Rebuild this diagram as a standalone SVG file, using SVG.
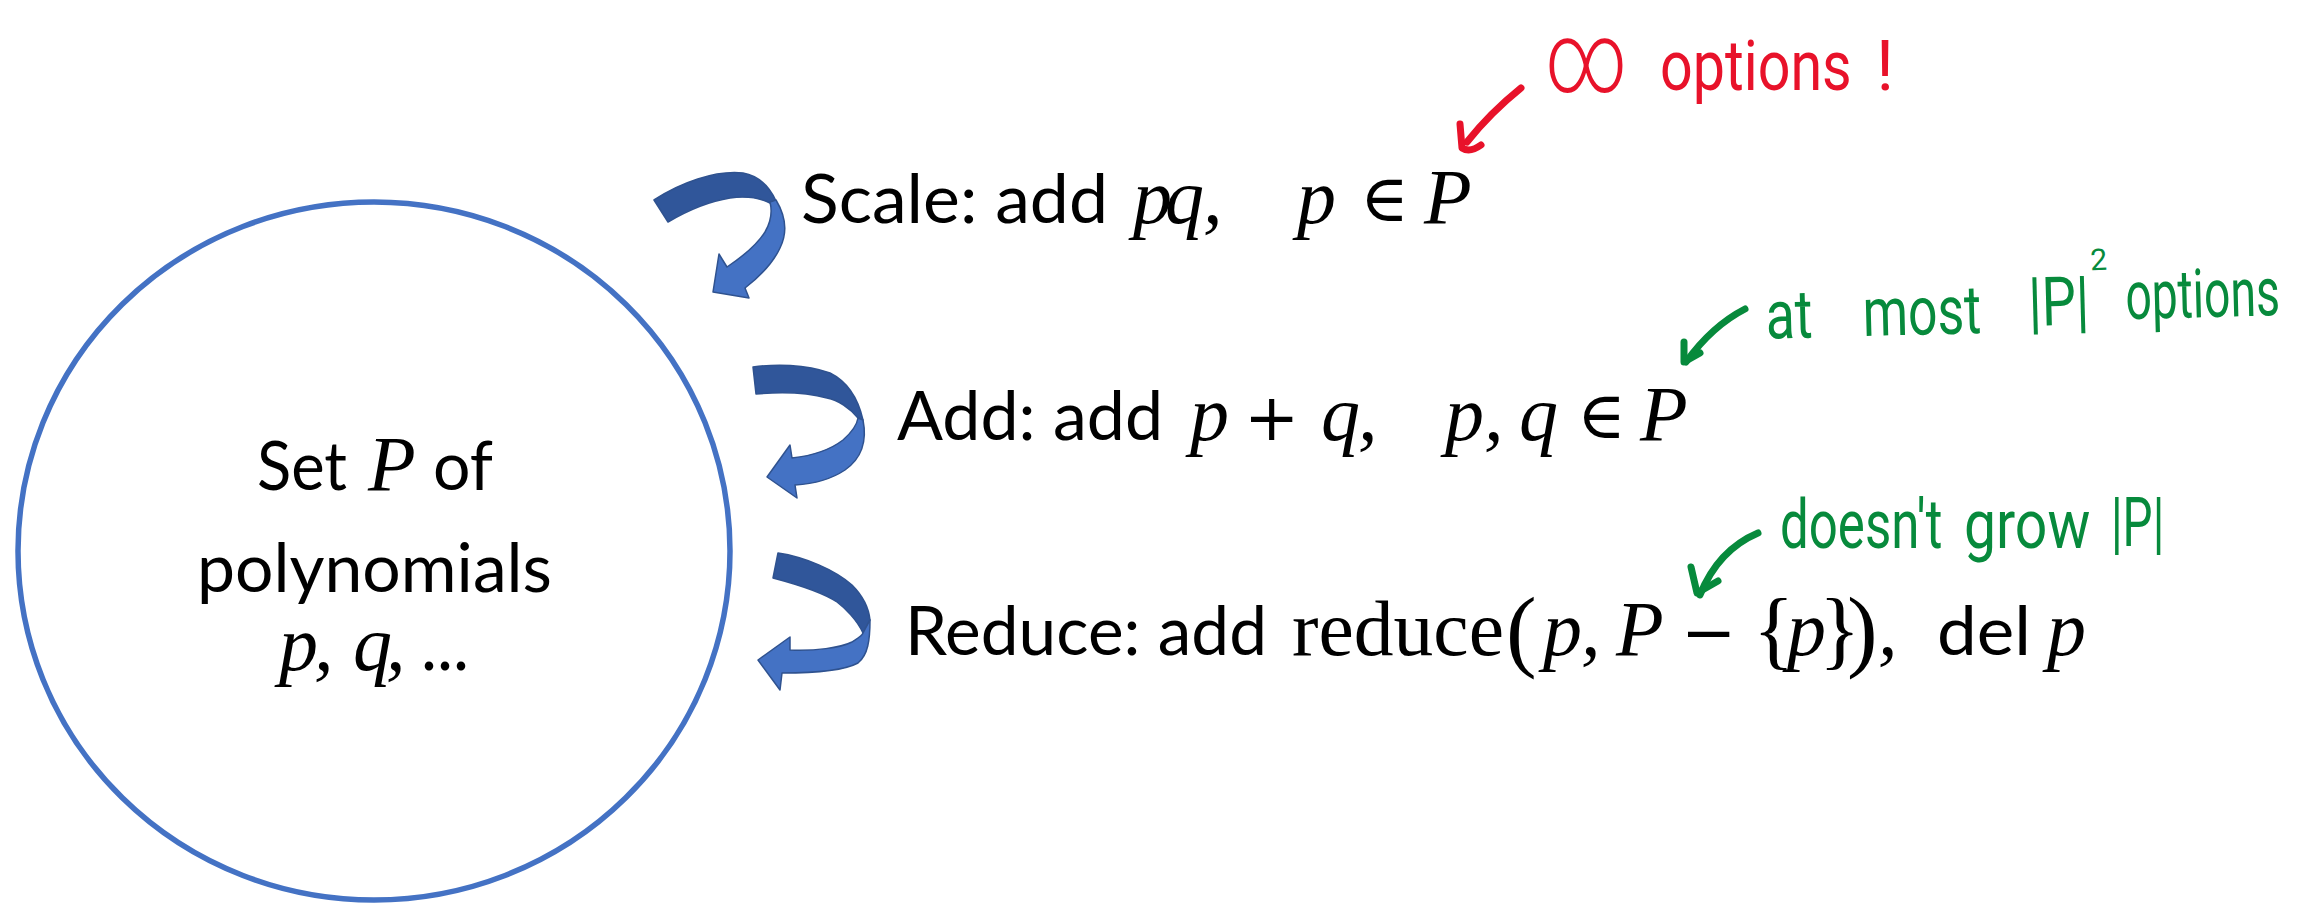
<svg xmlns="http://www.w3.org/2000/svg" width="2310" height="912" viewBox="0 0 2310 912">
<style>
.cal{font-family:Lato,"Liberation Sans",sans-serif;font-size:67px;fill:#000}
.mi{font-family:"Liberation Serif","DejaVu Serif",serif;font-style:italic;font-size:78px;fill:#000}
.mu{font-family:"Liberation Serif","DejaVu Serif",serif;font-size:78px;fill:#000}
.op{font-family:"DejaVu Serif","Liberation Serif",serif;font-size:66px;fill:#000}
.dark{fill:#30569A;stroke:#2F528F;stroke-width:1.5;stroke-linejoin:round}
.light{fill:#4472C4;stroke:#2F528F;stroke-width:1.5;stroke-linejoin:round}
.hw{font-family:Roboto,"Liberation Sans",sans-serif;font-size:68px}
.red{fill:#E8122A}
.green{fill:#078A3C}
.ink{fill:none;stroke-width:7;stroke-linecap:round;stroke-linejoin:round}
</style>
<rect width="2310" height="912" fill="#fff"/>

<g id="set-node">
<ellipse cx="374" cy="551" rx="356" ry="349" fill="#fff" stroke="#4472C4" stroke-width="5.5"/>
<text class="cal" x="257" y="490" textLength="90" lengthAdjust="spacingAndGlyphs">Set</text>
<text class="mi" x="368" y="490">P</text>
<text class="cal" x="433" y="490" textLength="60" lengthAdjust="spacingAndGlyphs">of</text>
<text class="cal" x="197" y="592" textLength="355" lengthAdjust="spacingAndGlyphs">polynomials</text>
<text class="mi" x="279" y="670">p</text>
<text class="mi" x="314" y="670">,</text>
<text class="mi" x="353" y="670">q</text>
<text class="mi" x="386" y="670">,</text>
<text class="cal" x="421" y="670" style="font-size:72px" textLength="48" lengthAdjust="spacingAndGlyphs">...</text>
</g>

<g id="connectors">
<g id="arrow-scale">
<path class="dark" d="M654,200 C680,183 715,170 743,173 C760,176 770,188 776,201 L770,203 C760,198 745,196 730,198 C705,202 685,212 668,222 Z"/>
<path class="light" d="M776,200 C785,215 788,232 780,248 C772,265 758,278 745,288 L749,298 L713,292 L719,254 L727,267 C745,255 758,243 765,232 C772,220 772,210 770,202 Z"/>
</g>
<g id="arrow-add">
<path class="dark" d="M753,367 C775,364 805,364 830,373 C848,382 858,398 863,420 L858,418 C850,408 838,400 827,398 C805,392 780,392 756,394 Z"/>
<path class="light" d="M863,420 C867,440 862,458 845,470 C830,480 812,484 795,485 L797,498 L767,477 L790,445 L792,458 C810,456 830,450 843,440 C852,432 857,425 858,418 Z"/>
</g>
<g id="arrow-reduce">
<path class="dark" d="M778,553 C805,557 835,570 852,585 C864,597 869,610 870,620 L863,633 C857,620 845,608 837,602 C825,594 807,587 773,578 Z"/>
<path class="light" d="M870,620 C870,640 868,655 858,663 C845,670 820,673 782,673 L780,690 L758,660 L790,637 L790,650 C815,651 840,648 852,642 C858,638 862,636 863,633 Z"/>
</g>
</g>

<g id="scale-label">
<text class="cal" x="801" y="223" textLength="307" lengthAdjust="spacingAndGlyphs">Scale: add</text>
<text class="mi" x="1133" y="223">p</text>
<text class="mi" x="1165" y="223">q</text>
<text class="mi" x="1203" y="223">,</text>
<text class="mi" x="1297" y="223">p</text>
<text class="op" x="1360" y="221">∈</text>
<text class="mi" x="1424" y="223">P</text>
</g>

<g id="add-label">
<text class="cal" x="897" y="440" textLength="266" lengthAdjust="spacingAndGlyphs">Add: add</text>
<text class="mi" x="1190" y="440">p</text>
<text class="op" x="1244" y="440">+</text>
<text class="mi" x="1321" y="440">q</text>
<text class="mi" x="1358" y="440">,</text>
<text class="mi" x="1445" y="440">p</text>
<text class="mi" x="1484" y="440">,</text>
<text class="mi" x="1519" y="440">q</text>
<text class="op" x="1577" y="438">∈</text>
<text class="mi" x="1640" y="440">P</text>
</g>

<g id="reduce-label">
<text class="cal" x="905" y="655" textLength="362" lengthAdjust="spacingAndGlyphs">Reduce: add</text>
<text class="mu" x="1292" y="655" textLength="212" lengthAdjust="spacingAndGlyphs">reduce</text>
<text class="mu" x="1506" y="660" style="font-size:92px">(</text>
<text class="mi" x="1543" y="655">p</text>
<text class="mi" x="1581" y="655">,</text>
<text class="mi" x="1616" y="655">P</text>
<text class="op" x="1681" y="655">−</text>
<text class="mu" x="1753" y="658" style="font-size:86px">{</text>
<text class="mi" x="1787" y="655">p</text>
<text class="mu" x="1819" y="658" style="font-size:86px">}</text>
<text class="mu" x="1847" y="660" style="font-size:92px">)</text>
<text class="mi" x="1878" y="655">,</text>
<text class="cal" x="1937" y="655" textLength="94" lengthAdjust="spacingAndGlyphs">del</text>
<text class="mi" x="2047" y="655">p</text>
</g>

<g id="note-infinite">
<path class="ink" stroke="#E8122A" d="M1521,88 Q1490,113 1467,142"/>
<path class="ink" stroke="#E8122A" d="M1460,124 L1462,148 Q1470,153 1481,145"/>
<text class="hw red" transform="translate(1545 92) scale(0.78 1)" style="font-size:100px;font-weight:300">∞</text>
<text class="hw red" transform="translate(1660 90) scale(0.82 1)" style="font-size:70px">options</text>
<text class="hw red" x="1876" y="90" style="font-size:70px">!</text>
</g>

<g id="note-add">
<path class="ink" stroke="#078A3C" d="M1745,309 Q1712,326 1686,362"/>
<path class="ink" stroke="#078A3C" d="M1684,342 L1684,362 L1700,353"/>
<g transform="rotate(-1.5 2020 325)">
<text class="hw green" transform="translate(1766 332) scale(0.79 1)">at</text>
<text class="hw green" transform="translate(1863 332) scale(0.76 1)">most</text>
<text class="hw green" transform="translate(2029 326) scale(0.8 1)">|P|</text>
<text class="hw green" x="2092" y="272" style="font-size:30px">2</text>
<text class="hw green" transform="translate(2126 322) scale(0.68 1)">options</text>
</g>
</g>

<g id="note-reduce">
<path class="ink" stroke="#078A3C" d="M1758,533 Q1718,550 1700,595"/>
<path class="ink" stroke="#078A3C" d="M1691,567 L1697,593 L1718,581"/>
<text class="hw green" transform="translate(1780 548) scale(0.75 1)">doesn't</text>
<text class="hw green" transform="translate(1964 548) scale(0.84 1)">grow</text>
<text class="hw green" transform="translate(2111 546) scale(0.7 1)">|P|</text>
</g>
</svg>
